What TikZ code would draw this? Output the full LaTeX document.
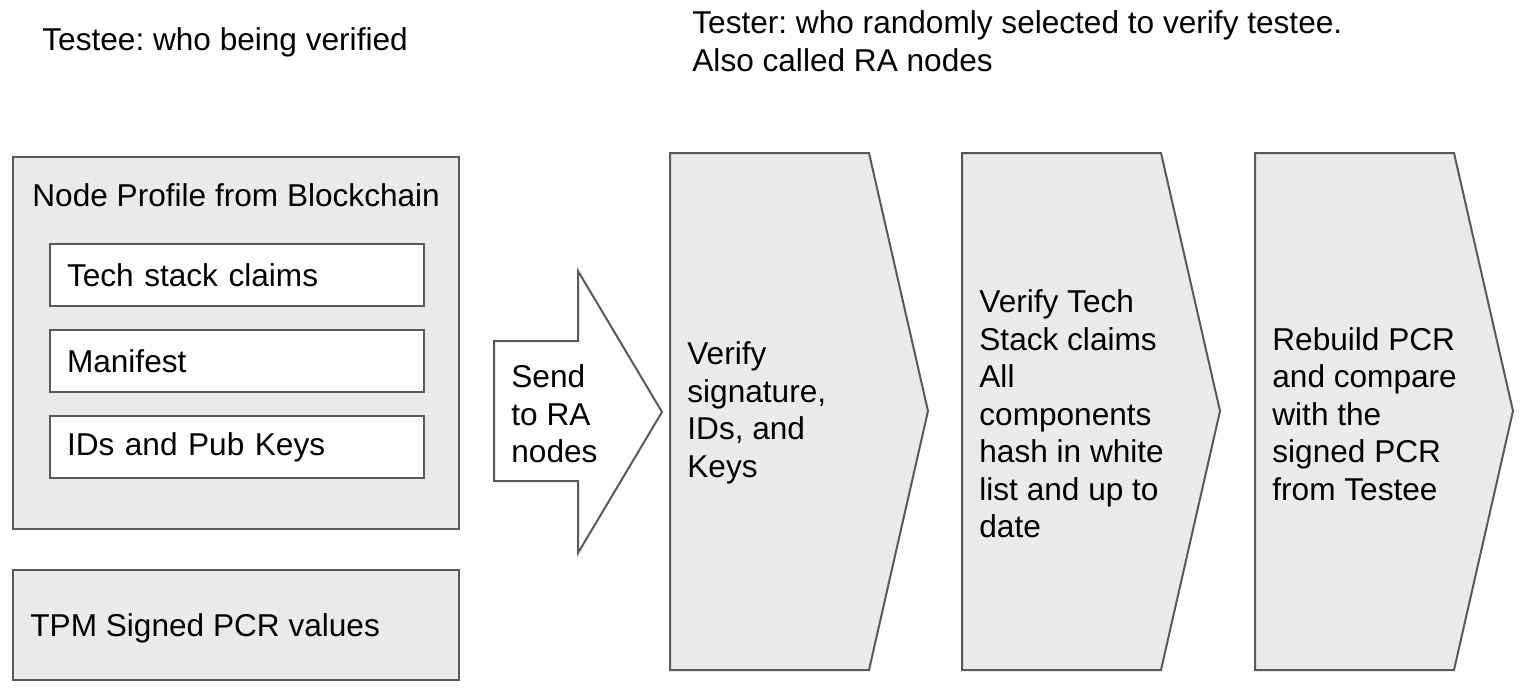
\documentclass[tikz,border=0pt]{standalone}
\usepackage{fontspec}
\setmainfont{Liberation Sans}
\usepackage{tikz}
\frenchspacing
\definecolor{boxfill}{HTML}{EAEAEA}
\definecolor{boxline}{HTML}{595959}
\tikzstyle{greybox} = [draw=boxline, fill=boxfill, line width=1pt]
\tikzstyle{whitebox} = [draw=boxline, fill=white, line width=1pt]
\tikzstyle{label} = [inner sep=0pt, anchor=west, align=left]
\tikzstyle{claim} = [whitebox, rectangle, anchor=north west, text width=170pt,
    inner xsep=8.5pt, inner ysep=0pt, minimum height=31pt, align=left]

\begin{document}
\begin{tikzpicture}[x=0.5pt,y=-0.5pt,font=\fontsize{15.8}{18.75}\selectfont]
  \useasboundingbox (0,0) rectangle (1520,690);

  % headings
  \node[label] (testee) at (42,42) {Testee: who being verified};
  \node[label] (tester) at (692,41) {Tester: who randomly selected to verify testee.\\Also called RA nodes};

  % testee side
  \draw[greybox] (13,157) rectangle (459,529);
  \node[label] (profile) at (32,195) {Node Profile from Blockchain};
  \node[claim] (tech)     at (49,243) {Tech stack claims};
  \node[claim] (manifest) at (49,329) {Manifest};
  \node[claim] (ids)      at (49,415) {IDs and Pub Keys};

  \draw[greybox] (13,570) rectangle (459,680);
  \node[label] (tpm) at (30,628) {TPM Signed PCR values};

  % send arrow
  \draw[whitebox] (494,341) -- (578,341) -- (578,271) -- (662,412)
        -- (578,553) -- (578,481) -- (494,481) -- cycle;
  \node[label] (send) at (511,414) {Send\\to RA\\nodes};

  % tester steps
  \draw[greybox] (670,153) -- (869,153) -- (928,411) -- (869,670) -- (670,670) -- cycle;
  \node[label] (sig) at (687,413) {Verify\\signature,\\IDs, and\\Keys};

  \draw[greybox] (962,153) -- (1161,153) -- (1220,411) -- (1161,670) -- (962,670) -- cycle;
  \node[label] (stack) at (979,414) {Verify Tech\\Stack claims\\All\\components\\hash in white\\list and up to\\date};

  \draw[greybox] (1255,153) -- (1454,153) -- (1513,411) -- (1454,670) -- (1255,670) -- cycle;
  \node[label] (pcr) at (1272,414) {Rebuild PCR\\and compare\\with the\\signed PCR\\from Testee};
\end{tikzpicture}
\end{document}
